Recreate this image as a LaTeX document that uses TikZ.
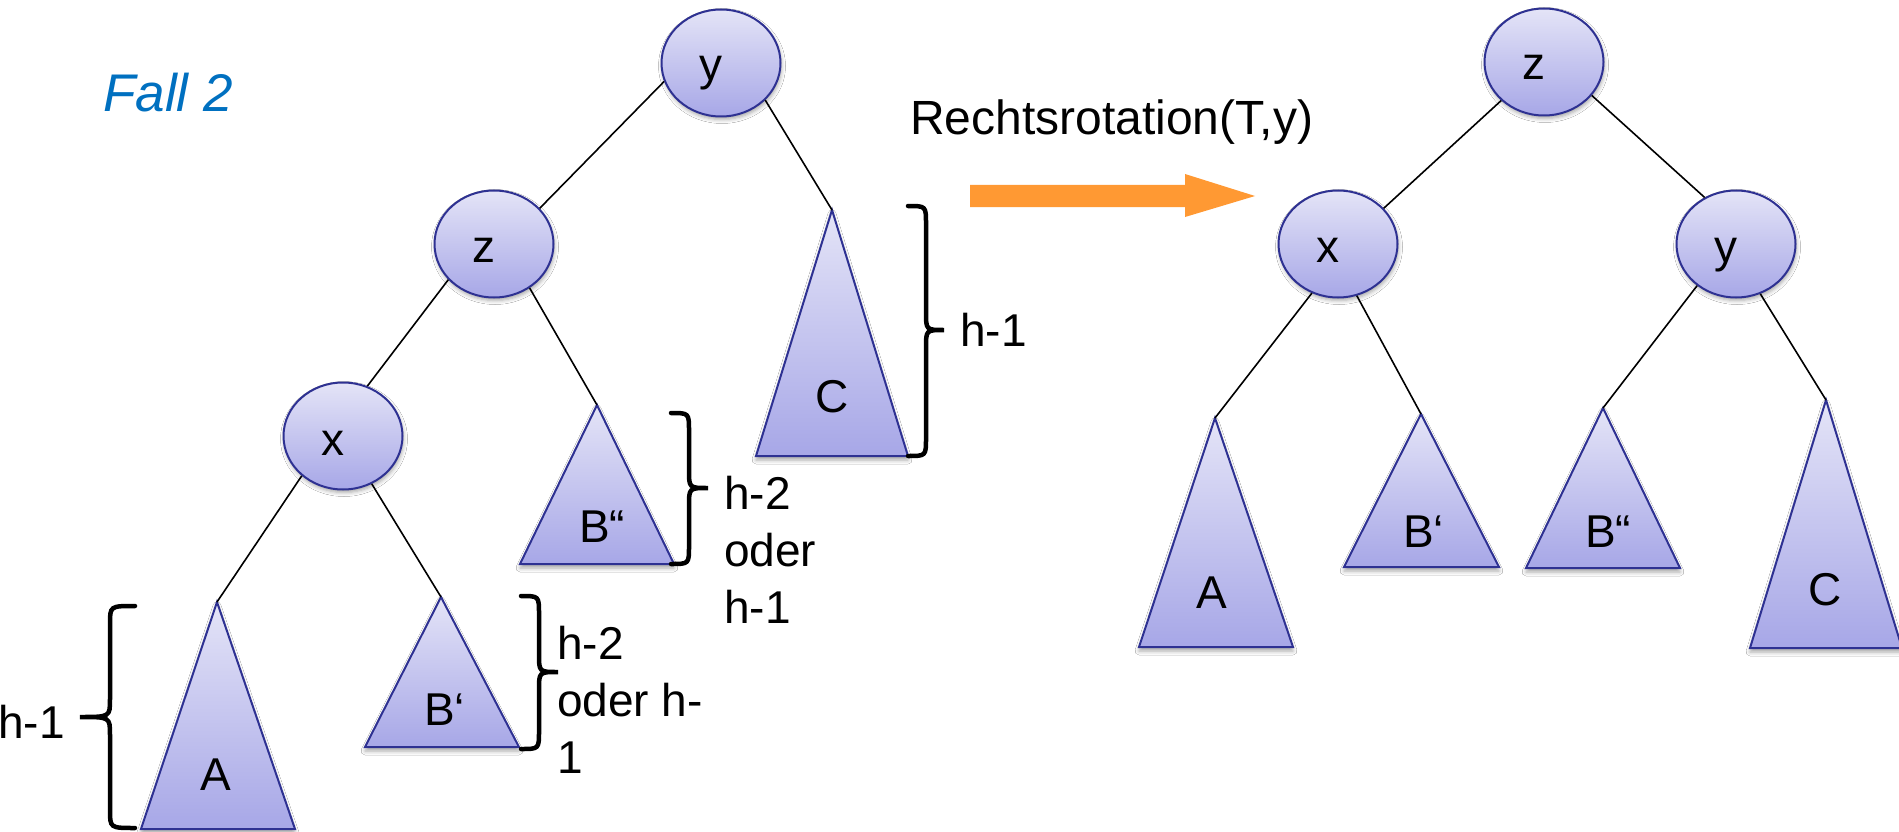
\documentclass[tikz,border=0pt]{standalone}
\usepackage{fontspec}
\setmainfont{Liberation Sans}
\usetikzlibrary{shapes.geometric,shadows.blur}
\definecolor{nodetop}{RGB}{228,228,247}
\definecolor{nodebot}{RGB}{167,167,231}
\definecolor{nodeline}{RGB}{46,49,146}
\definecolor{fallblue}{RGB}{0,112,192}
\definecolor{arroworange}{RGB}{255,153,51}
\newcommand{\subtreetri}[9]{%
  \coordinate (#1) at (#2,#3);
  \path[subtree] (#1) -- (#4,#6) -- (#5,#6) -- cycle;
  \node[lbl] (#1-t) at (#8,#9) {#7};
}
\newcommand{\bracepath}[6]{%
  \draw[curly] (#1,#4) .. controls (#2,#4) .. (#2,#4+18) -- (#2,#5-18)
    .. controls (#2,#5) .. (#3,#5) .. controls (#2,#5) .. (#2,#5+18)
    -- (#2,#6-18) .. controls (#2,#6) .. (#1,#6);
}
\begin{document}
\begin{tikzpicture}[x=1pt,y=-1pt,
  treenode/.style={ellipse, minimum width=119pt, minimum height=107pt, inner sep=0pt,
    draw=nodeline, line width=2pt, top color=nodetop, bottom color=nodebot,
    blur shadow={shadow xshift=1pt, shadow yshift=-3pt, shadow blur radius=4pt, shadow opacity=35}},
  subtree/.style={draw=nodeline, line width=2pt, top color=nodetop, bottom color=nodebot,
    blur shadow={shadow xshift=0pt, shadow yshift=-4pt, shadow blur radius=4pt, shadow opacity=35}},
  link/.style={line width=1.6pt, black},
  curly/.style={line width=4.5pt, line cap=round, black},
  lbl/.style={inner sep=0pt, anchor=base west, font=\fontsize{46}{57}\selectfont},
  nlbl/.style={inner sep=0pt, anchor=base, font=\fontsize{46}{57}\selectfont},
]
\useasboundingbox[fill=white] (0,0) rectangle (1899,832);

% left tree nodes
\node[treenode] (ly) at (721,63) {};
\node[treenode] (lz) at (494,244) {};
\node[treenode] (lx) at (343,436) {};
\node[nlbl] (ly-t) at (711,81) {y};
\node[nlbl] (lz-t) at (484,262) {z};
\node[nlbl] (lx-t) at (333,455) {x};

% left subtrees
\subtreetri{lA}{217}{602}{141}{295}{829}{A}{200}{790}
\subtreetri{lB1}{441}{597}{365}{519}{747}{B‘}{424}{725}
\subtreetri{lB2}{597}{405}{520}{674}{564}{B“}{579}{542}
\subtreetri{lC}{832}{210}{756}{908}{456}{C}{815}{412}

% left connectors
\draw[link] (ly.198) -- (lz.38);
\draw[link] (ly.320) -- (lC);
\draw[link] (lz.218) -- (lx.64);
\draw[link] (lz.309) -- (lB2);
\draw[link] (lx.224) -- (lA);
\draw[link] (lx.301) -- (lB1);

% right tree nodes
\node[treenode] (rz) at (1544,62) {};
\node[treenode] (rx) at (1338,244) {};
\node[treenode] (ry) at (1736,244) {};
\node[nlbl] (rz-t) at (1534,80) {z};
\node[nlbl] (rx-t) at (1328,262) {x};
\node[nlbl] (ry-t) at (1726,262) {y};

% right subtrees
\subtreetri{rA}{1215}{418}{1139}{1293}{647}{A}{1196}{608}
\subtreetri{rB1}{1421}{414}{1344}{1499}{567}{B‘}{1403}{547}
\subtreetri{rB2}{1603}{408}{1526}{1680}{568}{B“}{1585}{547}
\subtreetri{rC}{1826}{400}{1750}{1902}{648}{C}{1808}{605}

% right connectors
\draw[link] (rz.222) -- (rx.38);
\draw[link] (rz.325) -- (ry.124);
\draw[link] (rx.242) -- (rA);
\draw[link] (rx.290) -- (rB1);
\draw[link] (ry.227) -- (rB2);
\draw[link] (ry.296) -- (rC);

% braces
\bracepath{908}{926}{944}{206}{330}{456}
\bracepath{671}{689}{708}{413}{488}{564}
\bracepath{521}{539}{558}{596}{672}{749}
\bracepath{135}{110}{80}{606}{717}{828}

% texts
\node[lbl, font=\fontsize{53}{60}\selectfont\itshape, text=fallblue] (fall) at (103,112) {Fall 2};
\node[lbl, font=\fontsize{48}{57}\selectfont] (rot) at (910,135) {Rechtsrotation(T,y)};
\node[lbl] (hC) at (960,346) {h-1};
\node[lbl, align=left] (hB2) at (724,623) {h-2\\oder\\h-1};
\node[lbl, align=left] (hB1) at (557,773) {h-2\\oder h-\\1};
\node[lbl] (hA) at (-2,738) {h-1};

% rotation arrow
\fill[arroworange] (970,185) -- (1185,185) -- (1185,174) -- (1255,196)
  -- (1185,217) -- (1185,207) -- (970,207) -- cycle;
\end{tikzpicture}
\end{document}
